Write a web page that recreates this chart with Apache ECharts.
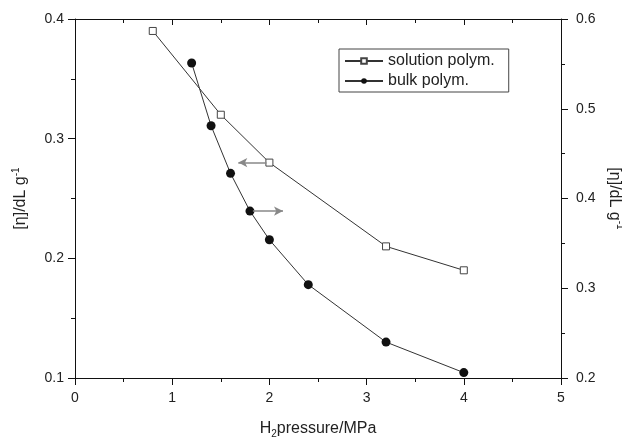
<!DOCTYPE html>
<html>
<head>
<meta charset="utf-8">
<script src="https://cdn.jsdelivr.net/npm/echarts@6/dist/echarts.min.js"></script>
<style>html,body{margin:0;padding:0;background:#fff;}#c{width:622px;height:439px;}</style>
</head>
<body>
<div id="c"></div>
<script>
// H2 pressure (MPa)
const solutionX = [0.8, 1.5, 2.0, 3.2, 4.0];
const solutionY = [0.39, 0.32, 0.28, 0.21, 0.19];       // left axis
const bulkX = [1.2, 1.4, 1.6, 1.8, 2.0, 2.4, 3.2, 4.0];
const bulkY = [0.551, 0.481, 0.428, 0.386, 0.354, 0.304, 0.240, 0.206]; // right axis
const seriesNames = ['solution polym.', 'bulk polym.'];
// annotation arrows: [fromX, toX] at the y of a point
const leftArrowX = [1.97, 1.68];
const rightArrowX = [1.83, 2.14];

const font = '"Liberation Sans", Arial, sans-serif';
const txt = '#222';
const ax = '#111';
const rich = {
  sup: {fontSize: 10, verticalAlign: 'top', padding: [0, 0, 10, 0], fontFamily: font, color: txt},
  sub: {fontSize: 10, padding: [10, 0, 0, 0], fontFamily: font, color: txt}
};

// helper: tick-only axis (no labels, no line) for minor ticks
function tickOnly(base, interval, len, inside) {
  return Object.assign({}, base, {
    interval: interval, name: '',
    axisLine: {show: false, onZero: false},
    axisTick: {show: true, inside: inside, length: len, lineStyle: {color: ax}},
    minorTick: {show: false},
    axisLabel: {show: false},
    splitLine: {show: false}
  });
}

const chart = echarts.init(document.getElementById('c'), null, {renderer: 'canvas'});
const fmt1 = v => v.toFixed(1);
const xb = {type: 'value', position: 'bottom', min: 0, max: 5};
const xt = {type: 'value', position: 'top', min: 0, max: 5};
const yl = {type: 'value', position: 'left', min: 0.1, max: 0.4};
const yr = {type: 'value', position: 'right', min: 0.2, max: 0.6};
const option = {
  animation: false,
  backgroundColor: '#fff',
  grid: {left: 75, right: 61, top: 19, bottom: 61, containLabel: false, outerBoundsMode: 'none'},
  legend: {
    orient: 'vertical', left: 339, top: 49,
    padding: [4, 14, 3, 5], itemGap: 4, itemWidth: 38, itemHeight: 7,
    borderColor: '#444', borderWidth: 1,
    textStyle: {fontFamily: font, fontSize: 16, color: txt},
    data: seriesNames
  },
  xAxis: [Object.assign({}, xb, {
    interval: 1,
    name: 'H{sub|2}pressure/MPa', nameLocation: 'middle', nameGap: 41,
    nameTextStyle: {fontFamily: font, fontSize: 16, color: txt, rich: rich},
    axisLine: {show: true, onZero: false, lineStyle: {color: ax, width: 1}},
    axisTick: {show: true, inside: false, length: 7, lineStyle: {color: ax}},
    axisLabel: {fontFamily: font, fontSize: 14, color: txt, margin: 13},
    splitLine: {show: false}
  }), Object.assign({}, xt, {
    interval: 1,
    axisLine: {show: true, onZero: false, lineStyle: {color: ax, width: 1}},
    axisTick: {show: true, inside: true, length: 6, lineStyle: {color: ax}},
    axisLabel: {show: false},
    splitLine: {show: false}
  }),
  tickOnly(xb, 0.5, 4, false),
  tickOnly(xt, 0.5, 4, true)],
  yAxis: [Object.assign({}, yl, {
    interval: 0.1,
    name: '[η]/dL g{sup|-1}', nameLocation: 'middle', nameRotate: 90, nameGap: 44,
    nameTextStyle: {fontFamily: font, fontSize: 16, color: txt, rich: rich},
    axisLine: {show: true, onZero: false, lineStyle: {color: ax, width: 1}},
    axisTick: {show: true, inside: false, length: 7, lineStyle: {color: ax}},
    axisLabel: {fontFamily: font, fontSize: 14, color: txt, margin: 11, formatter: fmt1},
    splitLine: {show: false}
  }), Object.assign({}, yr, {
    interval: 0.1,
    name: '[η]/dL g{sup|-1}', nameLocation: 'middle', nameRotate: -90, nameGap: 34,
    nameTextStyle: {fontFamily: font, fontSize: 16, color: txt, rich: rich},
    axisLine: {show: true, onZero: false, lineStyle: {color: ax, width: 1}},
    axisTick: {show: true, inside: false, length: 7, lineStyle: {color: ax}},
    axisLabel: {fontFamily: font, fontSize: 14, color: txt, margin: 15, formatter: fmt1},
    splitLine: {show: false}
  }),
  tickOnly(yl, 0.05, 4, false),
  tickOnly(yr, 0.05, 4, false)],
  series: [{
    name: seriesNames[0], type: 'line', xAxisIndex: 0, yAxisIndex: 0,
    data: solutionX.map((x, i) => [x, solutionY[i]]),
    symbol: 'rect', symbolSize: 7,
    itemStyle: {color: '#fff', borderColor: '#444', borderWidth: 1},
    lineStyle: {color: '#333', width: 1},
    markLine: {
      silent: true, label: {show: false},
      lineStyle: {color: '#888', width: 1.5, type: 'solid'},
      symbol: ['none', 'arrow'], symbolSize: [7, 9],
      data: [[{coord: [leftArrowX[0], solutionY[2]], itemStyle: {color: '#222'}}, {coord: [leftArrowX[1], solutionY[2]], itemStyle: {color: '#222'}}]]
    }
  }, {
    name: seriesNames[1], type: 'line', xAxisIndex: 0, yAxisIndex: 1,
    data: bulkX.map((x, i) => [x, bulkY[i]]),
    symbol: 'circle', symbolSize: 9,
    itemStyle: {color: '#111', borderColor: '#111', borderWidth: 0},
    lineStyle: {color: '#333', width: 1},
    markLine: {
      silent: true, label: {show: false},
      lineStyle: {color: '#888', width: 1.5, type: 'solid'},
      symbol: ['none', 'arrow'], symbolSize: [7, 9],
      data: [[{coord: [rightArrowX[0], bulkY[3]], itemStyle: {color: '#222'}}, {coord: [rightArrowX[1], bulkY[3]], itemStyle: {color: '#222'}}]]
    }
  }]
};
chart.setOption(option);
</script>
</body>
</html>
